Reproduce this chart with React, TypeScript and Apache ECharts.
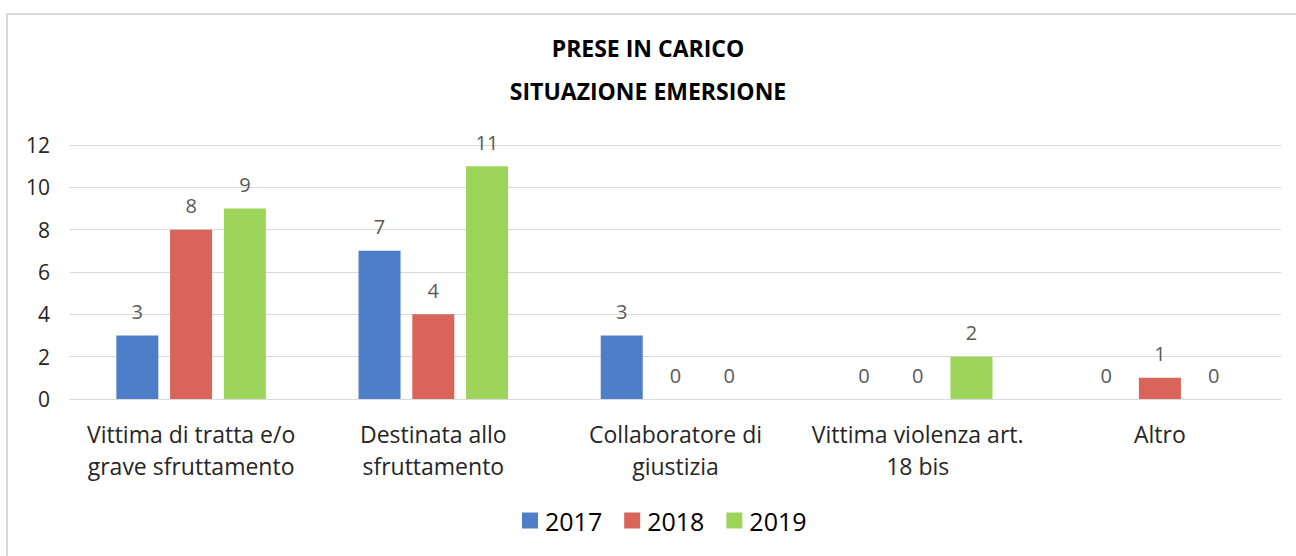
import React, { useEffect, useRef } from "react";
import * as echarts from "echarts";

const categories = [
  "Vittima di tratta e/o\ngrave sfruttamento",
  "Destinata allo\nsfruttamento",
  "Collaboratore di\ngiustizia",
  "Vittima violenza art.\n18 bis",
  "Altro",
];
const seriesNames = ["2017", "2018", "2019"];
const values2017 = [3, 7, 3, 0, 0];
const values2018 = [8, 4, 0, 0, 1];
const values2019 = [9, 11, 0, 2, 0];
const colors = ["#4f7ec9", "#d96459", "#9dd45a"];
const titleLines = ["PRESE IN CARICO", "SITUAZIONE EMERSIONE"];

export default function App() {
  const ref = useRef<HTMLDivElement>(null);
  useEffect(() => {
    if (!ref.current) return;
    const chart = echarts.init(ref.current, undefined, { renderer: "svg" });
    const data = [values2017, values2018, values2019];
    const font = "'Open Sans', sans-serif";
    chart.setOption({
      animation: false,
      backgroundColor: "#ffffff",
      graphic: [
        {
          type: "rect",
          shape: { x: 7, y: 14, width: 1320, height: 600 },
          style: { fill: "none", stroke: "#d9d9d9", lineWidth: 2 },
          silent: true,
        },
        {
          type: "text",
          left: "center",
          top: 36,
          style: {
            text: titleLines[0],
            font: "bold 23px 'Open Sans', sans-serif",
            fill: "#000000",
          },
        },
        {
          type: "text",
          left: "center",
          top: 79,
          style: {
            text: titleLines[1],
            font: "bold 23px 'Open Sans', sans-serif",
            fill: "#000000",
          },
        },
      ],
      grid: { left: 70, right: 15, top: 145, bottom: 157, containLabel: false },
      legend: {
        data: seriesNames,
        bottom: 18,
        left: 517,
        itemWidth: 16,
        itemHeight: 16,
        itemGap: 22,
        icon: "rect",
        textStyle: { fontSize: 25, color: "#000", fontFamily: font, padding: [0, 0, 0, 2] },
      },
      xAxis: {
        type: "category",
        data: categories,
        axisLine: { show: true, lineStyle: { color: "#d9d9d9" } },
        axisTick: { show: false },
        axisLabel: {
          interval: 0,
          fontSize: 23,
          lineHeight: 32,
          margin: 19,
          color: "#262626",
          fontFamily: font,
        },
      },
      yAxis: {
        type: "value",
        min: 0,
        max: 12,
        interval: 2,
        axisLine: { show: false },
        axisTick: { show: false },
        splitLine: { lineStyle: { color: "#d9d9d9", width: 1 } },
        axisLabel: {
          fontSize: 21,
          color: "#262626",
          margin: 20,
          fontFamily: font,
        },
      },
      series: seriesNames.map((name, i) => ({
        name,
        type: "bar",
        data: data[i],
        barWidth: 42,
        barGap: "28%",
        itemStyle: { color: colors[i] },
        label: {
          show: true,
          position: "top",
          distance: 14,
          fontSize: 20,
          color: "#595959",
          fontFamily: font,
        },
      })),
    });
    return () => chart.dispose();
  }, []);
  return (
    <div
      ref={ref}
      style={{ position: "fixed", left: 0, top: 0, width: 1296, height: 556 }}
    />
  );
}
